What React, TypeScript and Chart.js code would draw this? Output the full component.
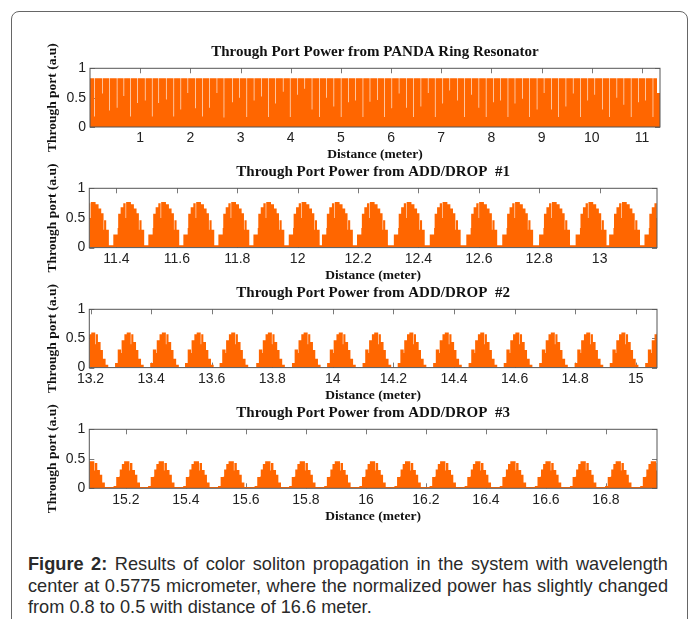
import React, { useEffect, useRef } from "react";
import { Chart, registerables } from "chart.js";

Chart.register(...registerables);

const ORANGE = "#FF6600";
const SERIF = "'Liberation Serif', 'Times New Roman', serif";
const SANS = "'Liberation Sans', Arial, sans-serif";

// ---------- Panel 1: PANDA ring resonator ----------
const p1Title = "Through Port Power from PANDA Ring Resonator";
const p1Level = 0.83;
const p1NotchX = [
  0.09, 0.245, 0.39, 0.54, 0.675, 0.81, 0.95, 1.1, 1.24, 1.37, 1.52, 1.67, 1.81, 1.95, 2.1, 2.24, 2.38, 2.53, 2.67,
  2.84, 2.98, 3.125, 3.27, 3.415, 3.56, 3.7, 3.85, 3.99, 4.14, 4.28, 4.425, 4.57, 4.715, 4.86, 5.005, 5.15, 5.29,
  5.44, 5.58, 5.73, 5.87, 6.015, 6.16, 6.305, 6.45, 6.595, 6.74, 6.88, 7.03, 7.17, 7.32, 7.46, 7.605, 7.75, 7.895,
  8.04, 8.185, 8.33, 8.47, 8.62, 8.76, 8.91, 9.05, 9.195, 9.34, 9.485, 9.63, 9.775, 9.92, 10.06, 10.21, 10.35, 10.5,
  10.64, 10.785, 10.93, 11.075, 11.22,
];
const p1NotchY = [
  0.18, 0.57, 0.28, 0.33, 0.53, 0.18, 0.41, 0.45, 0.18, 0.41, 0.47, 0.18, 0.3, 0.58, 0.32, 0.18, 0.33, 0.58, 0.16,
  0.42, 0.5, 0.17, 0.45, 0.52, 0.17, 0.4, 0.6, 0.17, 0.55, 0.65, 0.3, 0.17, 0.5, 0.35, 0.17, 0.42, 0.45,
  0.17, 0.43, 0.46, 0.17, 0.32, 0.57, 0.33, 0.17, 0.35, 0.58, 0.17, 0.4, 0.62, 0.45, 0.17, 0.55, 0.33, 0.17,
  0.42, 0.45, 0.17, 0.4, 0.48, 0.17, 0.3, 0.58, 0.3, 0.17, 0.35, 0.57, 0.17, 0.45, 0.55, 0.3, 0.17, 0.5,
  0.38, 0.17, 0.42, 0.45, 0.17,
];
const p1TailX = 11.3;
const p1TailY = 0.58;
const p1Range = [0, 11.36];
const p1Ticks = [1, 2, 3, 4, 5, 6, 7, 8, 9, 10, 11];

// ---------- Panel 2: ADD/DROP #1 ----------
const p2Title = "Through Port Power from ADD/DROP  #1";
const p2Peaks = [
  11.322, 11.439, 11.555, 11.671, 11.787, 11.903, 12.02, 12.13, 12.246, 12.368, 12.487, 12.608, 12.727, 12.849,
  12.97, 13.081, 13.198,
];
const p2Offsets = [-0.0495, -0.0352, -0.0334, -0.0253, -0.0165, -0.0088, -0.007, 0.0088, 0.0187, 0.0275, 0.0352, 0.037, 0.044, 0.0528];
const p2Values = [0.22, 0.33, 0.57, 0.68, 0.75, 0.5, 0.77, 0.73, 0.66, 0.58, 0.3, 0.46, 0.3, 0.04];
const p2Range = [11.31, 13.19];
const p2Ticks = [11.4, 11.6, 11.8, 12, 12.2, 12.4, 12.6, 12.8, 13];

// ---------- Panel 3: ADD/DROP #2 ----------
const p3Title = "Through Port Power from ADD/DROP  #2";
const p3Peaks = [
  13.208, 13.325, 13.441, 13.556, 13.67, 13.791, 13.909, 14.025, 14.142, 14.258, 14.375, 14.492, 14.608, 14.725,
  14.842, 14.958, 15.075,
];
const p3Offsets = [-0.044, -0.0352, -0.0242, -0.0224, -0.0132, -0.0055, 0.0077, 0.0095, 0.0165, 0.0253, 0.033, 0.0418, 0.0506];
const p3Values = [0.08, 0.31, 0.25, 0.47, 0.57, 0.6, 0.4, 0.57, 0.44, 0.3, 0.15, 0.05, 0.01];
const p3Range = [13.196, 15.07];
const p3Ticks = [13.2, 13.4, 13.6, 13.8, 14, 14.2, 14.4, 14.6, 14.8, 15];

// ---------- Panel 4: ADD/DROP #3 ----------
const p4Title = "Through Port Power from ADD/DROP  #3";
const p4Peaks = [
  15.087, 15.204, 15.319, 15.436, 15.552, 15.674, 15.789, 15.906, 16.023, 16.14, 16.257, 16.374, 16.491, 16.608,
  16.725, 16.842, 16.959,
];
const p4Offsets = [-0.0451, -0.0363, -0.0264, -0.0246, -0.0176, -0.0099, 0.0077, 0.0095, 0.0176, 0.0264, 0.0341, 0.0429];
const p4Values = [0.04, 0.19, 0.2, 0.32, 0.41, 0.46, 0.3, 0.43, 0.31, 0.23, 0.1, 0.02];
const p4Range = [15.078, 16.97];
const p4Ticks = [15.2, 15.4, 15.6, 15.8, 16, 16.2, 16.4, 16.6, 16.8];

const yTicks = [0, 0.5, 1];
const xLabel = "Distance (meter)";
const yLabel = "Through port (a.u)";

type Pt = { x: number; y: number };

function buildNotched(level: number, xs: number[], ds: number[], tailX: number, tailY: number, xmax: number): Pt[] {
  const w = 0.012;
  const pts: Pt[] = [{ x: 0, y: level }];
  xs.forEach((x, i) => {
    pts.push({ x: x - w / 2, y: ds[i] });
    pts.push({ x: x + w / 2, y: level });
  });
  pts.push({ x: tailX, y: tailY });
  pts.push({ x: xmax, y: tailY });
  return pts;
}

function buildHumps(peaks: number[], offs: number[], vals: number[]): Pt[] {
  const pts: Pt[] = [];
  peaks.forEach((p) => offs.forEach((o, k) => pts.push({ x: p + o, y: vals[k] })));
  return pts;
}

// layout of each plot area in page pixels
const TITLE_BLOCK = 25.3;
const XAXIS_H = 36;
const YTITLE_LEFT = 44.9;

const panels = [
  { title: p1Title, data: buildNotched(p1Level, p1NotchX, p1NotchY, p1TailX, p1TailY, p1Range[1]), range: p1Range, ticks: p1Ticks, L: 90, R: 660, T: 68.3, B: 127, tickPad: 2.5 },
  { title: p2Title, data: buildHumps(p2Peaks, p2Offsets, p2Values), range: p2Range, ticks: p2Ticks, L: 89.3, R: 657, T: 188, B: 247.3, tickPad: 3.5 },
  { title: p3Title, data: buildHumps(p3Peaks, p3Offsets, p3Values), range: p3Range, ticks: p3Ticks, L: 89.3, R: 657, T: 309, B: 367.3, tickPad: 3.5 },
  { title: p4Title, data: buildHumps(p4Peaks, p4Offsets, p4Values), range: p4Range, ticks: p4Ticks, L: 89.3, R: 657, T: 429.3, B: 488.3, tickPad: 3 },
];

const boxPlugin = {
  id: "matlabBox",
  beforeDatasetsDraw(chart: any) {
    const { ctx, chartArea: a, scales } = chart;
    ctx.save();
    ctx.strokeStyle = "#7a7a7a";
    ctx.lineWidth = 1;
    ctx.beginPath();
    scales.x.ticks.forEach((t: any) => {
      const px = Math.round(scales.x.getPixelForValue(t.value)) + 0.5;
      ctx.moveTo(px, a.top);
      ctx.lineTo(px, a.top + 5);
      ctx.moveTo(px, a.bottom);
      ctx.lineTo(px, a.bottom - 5);
    });
    scales.y.ticks.forEach((t: any) => {
      const py = Math.round(scales.y.getPixelForValue(t.value)) + 0.5;
      ctx.moveTo(a.left, py);
      ctx.lineTo(a.left + 5, py);
      ctx.moveTo(a.right, py);
      ctx.lineTo(a.right - 5, py);
    });
    ctx.stroke();
    ctx.restore();
  },
  afterDatasetsDraw(chart: any) {
    const { ctx, chartArea: a } = chart;
    ctx.save();
    ctx.strokeStyle = "#555";
    ctx.lineWidth = 1;
    ctx.strokeRect(a.left, a.top, a.right - a.left, a.bottom - a.top);
    ctx.restore();
  },
};

function Panel({ p }: { p: (typeof panels)[number] }) {
  const ref = useRef<HTMLCanvasElement>(null);
  const top = p.T - TITLE_BLOCK;
  const height = p.B - p.T + TITLE_BLOCK + XAXIS_H;
  useEffect(() => {
    const chart = new Chart(ref.current!, {
      type: "line",
      data: {
        datasets: [
          {
            data: p.data as any,
            stepped: true,
            fill: "origin",
            backgroundColor: ORANGE,
            borderColor: "rgba(0,0,0,0)",
            borderWidth: 1,
            pointRadius: 0,
            pointHoverRadius: 0,
          },
        ],
      },
      options: {
        animation: false,
        responsive: true,
        maintainAspectRatio: false,
        events: [],
        parsing: false,
        layout: { padding: { left: YTITLE_LEFT, right: 694 - p.R, top: 0, bottom: 0 } },
        plugins: {
          legend: { display: false },
          tooltip: { enabled: false },
          title: {
            display: true,
            text: p.title,
            fullSize: false,
            color: "#111",
            font: { family: SERIF, size: 15, weight: "bold" },
            padding: { top: 0, bottom: TITLE_BLOCK - 18 },
          },
        },
        scales: {
          x: {
            type: "linear",
            bounds: "data",
            min: p.range[0],
            max: p.range[1],
            afterBuildTicks: (s: any) => {
              s.ticks = p.ticks.map((v) => ({ value: v }));
            },
            afterFit: (s: any) => {
              s.height = XAXIS_H;
            },
            grid: { display: false, drawTicks: false },
            border: { display: false },
            ticks: {
              autoSkip: false,
              maxRotation: 0,
              padding: p.tickPad,
              color: "#222",
              font: { family: SANS, size: 14 },
              callback: (v: any) => String(v),
            },
            title: {
              display: true,
              text: xLabel,
              color: "#111",
              font: { family: SERIF, size: 13.5, weight: "bold" },
              padding: 0,
            },
          },
          y: {
            type: "linear",
            min: 0,
            max: 1,
            afterBuildTicks: (s: any) => {
              s.ticks = yTicks.map((v) => ({ value: v }));
            },
            afterFit: (s: any) => {
              s.width = p.L - YTITLE_LEFT;
            },
            grid: { display: false, drawTicks: false },
            border: { display: false },
            ticks: {
              padding: 4,
              color: "#222",
              font: { family: SANS, size: 14 },
              callback: (v: any) => String(v),
            },
            title: {
              display: true,
              text: yLabel,
              color: "#111",
              font: { family: SERIF, size: 13.5, weight: "bold" },
              padding: 0,
            },
          },
        },
      },
      plugins: [boxPlugin],
    } as any);
    return () => chart.destroy();
  }, []);
  return (
    <div style={{ position: "absolute", left: 0, top, width: 694, height }}>
      <canvas ref={ref} />
    </div>
  );
}

export default function App() {
  return (
    <div style={{ position: "fixed", left: 0, top: 0, width: 694, height: 619, overflow: "hidden", background: "#fff" }}>
      <div
        style={{
          position: "absolute",
          left: 11,
          top: 11,
          width: 677,
          height: 800,
          border: "1px solid #666",
          borderRadius: 8,
          boxSizing: "border-box",
        }}
      />
      {panels.map((p, i) => (
        <Panel key={i} p={p} />
      ))}
      <div
        style={{
          position: "absolute",
          left: 28,
          top: 554,
          width: 640,
          fontFamily: SANS,
          fontSize: 18.2,
          lineHeight: "21.5px",
          color: "#2a2a2a",
        }}
      >
        <div style={{ textAlign: "justify", textAlignLast: "justify" }}>
          <b>Figure 2:</b> Results of color soliton propagation in the system with wavelength
        </div>
        <div style={{ textAlign: "justify", textAlignLast: "justify" }}>
          center at 0.5775 micrometer, where the normalized power has slightly changed
        </div>
        <div>from 0.8 to 0.5 with distance of 16.6 meter.</div>
      </div>
    </div>
  );
}
